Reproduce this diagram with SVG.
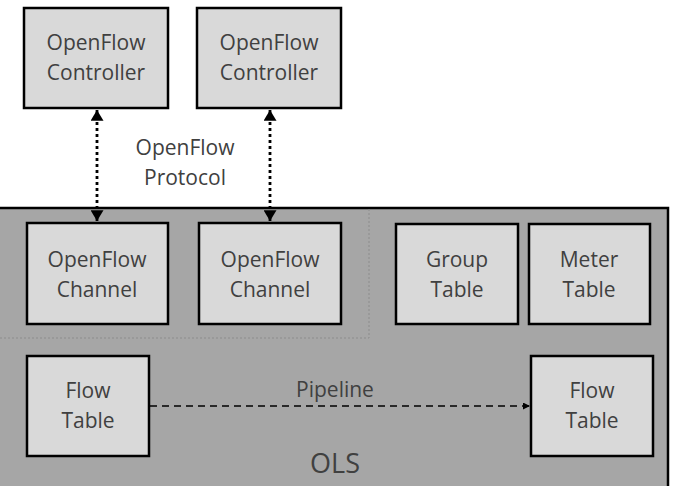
<svg xmlns="http://www.w3.org/2000/svg" width="676" height="486" viewBox="0 0 676 486">
<style>
.box{fill:#d9d9d9;stroke:#000;stroke-width:2.5}
.t{font-family:"Open Sans","Liberation Sans",sans-serif;font-size:21px;fill:#404040;text-anchor:middle}
.dot{stroke:#000;stroke-width:2.8;stroke-dasharray:3 3;fill:none}
.pipe{stroke:#000;stroke-width:1.5;stroke-dasharray:7 5;fill:none}
.div{stroke:#8c8c8c;stroke-width:1;stroke-dasharray:2 2;fill:none}
</style>
<defs>
<marker id="ah" viewBox="0 0 10 12" refX="10" refY="6" markerWidth="12" markerHeight="13" markerUnits="userSpaceOnUse" orient="auto-start-reverse">
<path d="M0,0 L10,6 L0,12 z" fill="#000"/>
</marker>
<marker id="as" viewBox="0 0 10 10" refX="10" refY="5" markerWidth="7" markerHeight="7" markerUnits="userSpaceOnUse" orient="auto">
<path d="M0,0 L10,5 L0,10 z" fill="#000"/>
</marker>
</defs>
<g id="ols">
<rect x="-5" y="208" width="673" height="290" fill="#a6a6a6" stroke="#000" stroke-width="2.5"/>
<path class="div" d="M369,209 V338 M0,338 H369"/>
<text class="t" x="335" y="473" style="font-size:27px">OLS</text>
</g>
<g id="ctrl1"><rect class="box" x="24" y="8" width="144" height="100"/><text class="t" x="96" y="50">OpenFlow</text><text class="t" x="96" y="80">Controller</text></g>
<g id="ctrl2"><rect class="box" x="197" y="8" width="144" height="100"/><text class="t" x="269" y="50">OpenFlow</text><text class="t" x="269" y="80">Controller</text></g>
<g id="chan1"><rect class="box" x="27" y="223" width="141" height="101"/><text class="t" x="97" y="267">OpenFlow</text><text class="t" x="97" y="297">Channel</text></g>
<g id="chan2"><rect class="box" x="199" y="223" width="142" height="101"/><text class="t" x="270" y="267">OpenFlow</text><text class="t" x="270" y="297">Channel</text></g>
<g id="group"><rect class="box" x="396" y="224" width="122" height="100"/><text class="t" x="457" y="267">Group</text><text class="t" x="457" y="297">Table</text></g>
<g id="meter"><rect class="box" x="529" y="224" width="121" height="100"/><text class="t" x="589" y="267">Meter</text><text class="t" x="589" y="297">Table</text></g>
<g id="flow1"><rect class="box" x="27" y="356" width="122" height="100"/><text class="t" x="88" y="398">Flow</text><text class="t" x="88" y="428">Table</text></g>
<g id="flow2"><rect class="box" x="531" y="356" width="122" height="100"/><text class="t" x="592" y="398">Flow</text><text class="t" x="592" y="428">Table</text></g>
<g id="connectors">
<line class="dot" x1="97" y1="110" x2="97" y2="221" marker-start="url(#ah)" marker-end="url(#ah)"/>
<line class="dot" x1="270" y1="110" x2="270" y2="221" marker-start="url(#ah)" marker-end="url(#ah)"/>
<line class="pipe" x1="150" y1="406" x2="530" y2="406" marker-end="url(#as)"/>
<text class="t" x="185" y="155">OpenFlow</text>
<text class="t" x="185" y="185">Protocol</text>
<text class="t" x="335" y="397">Pipeline</text>
</g>
</svg>
